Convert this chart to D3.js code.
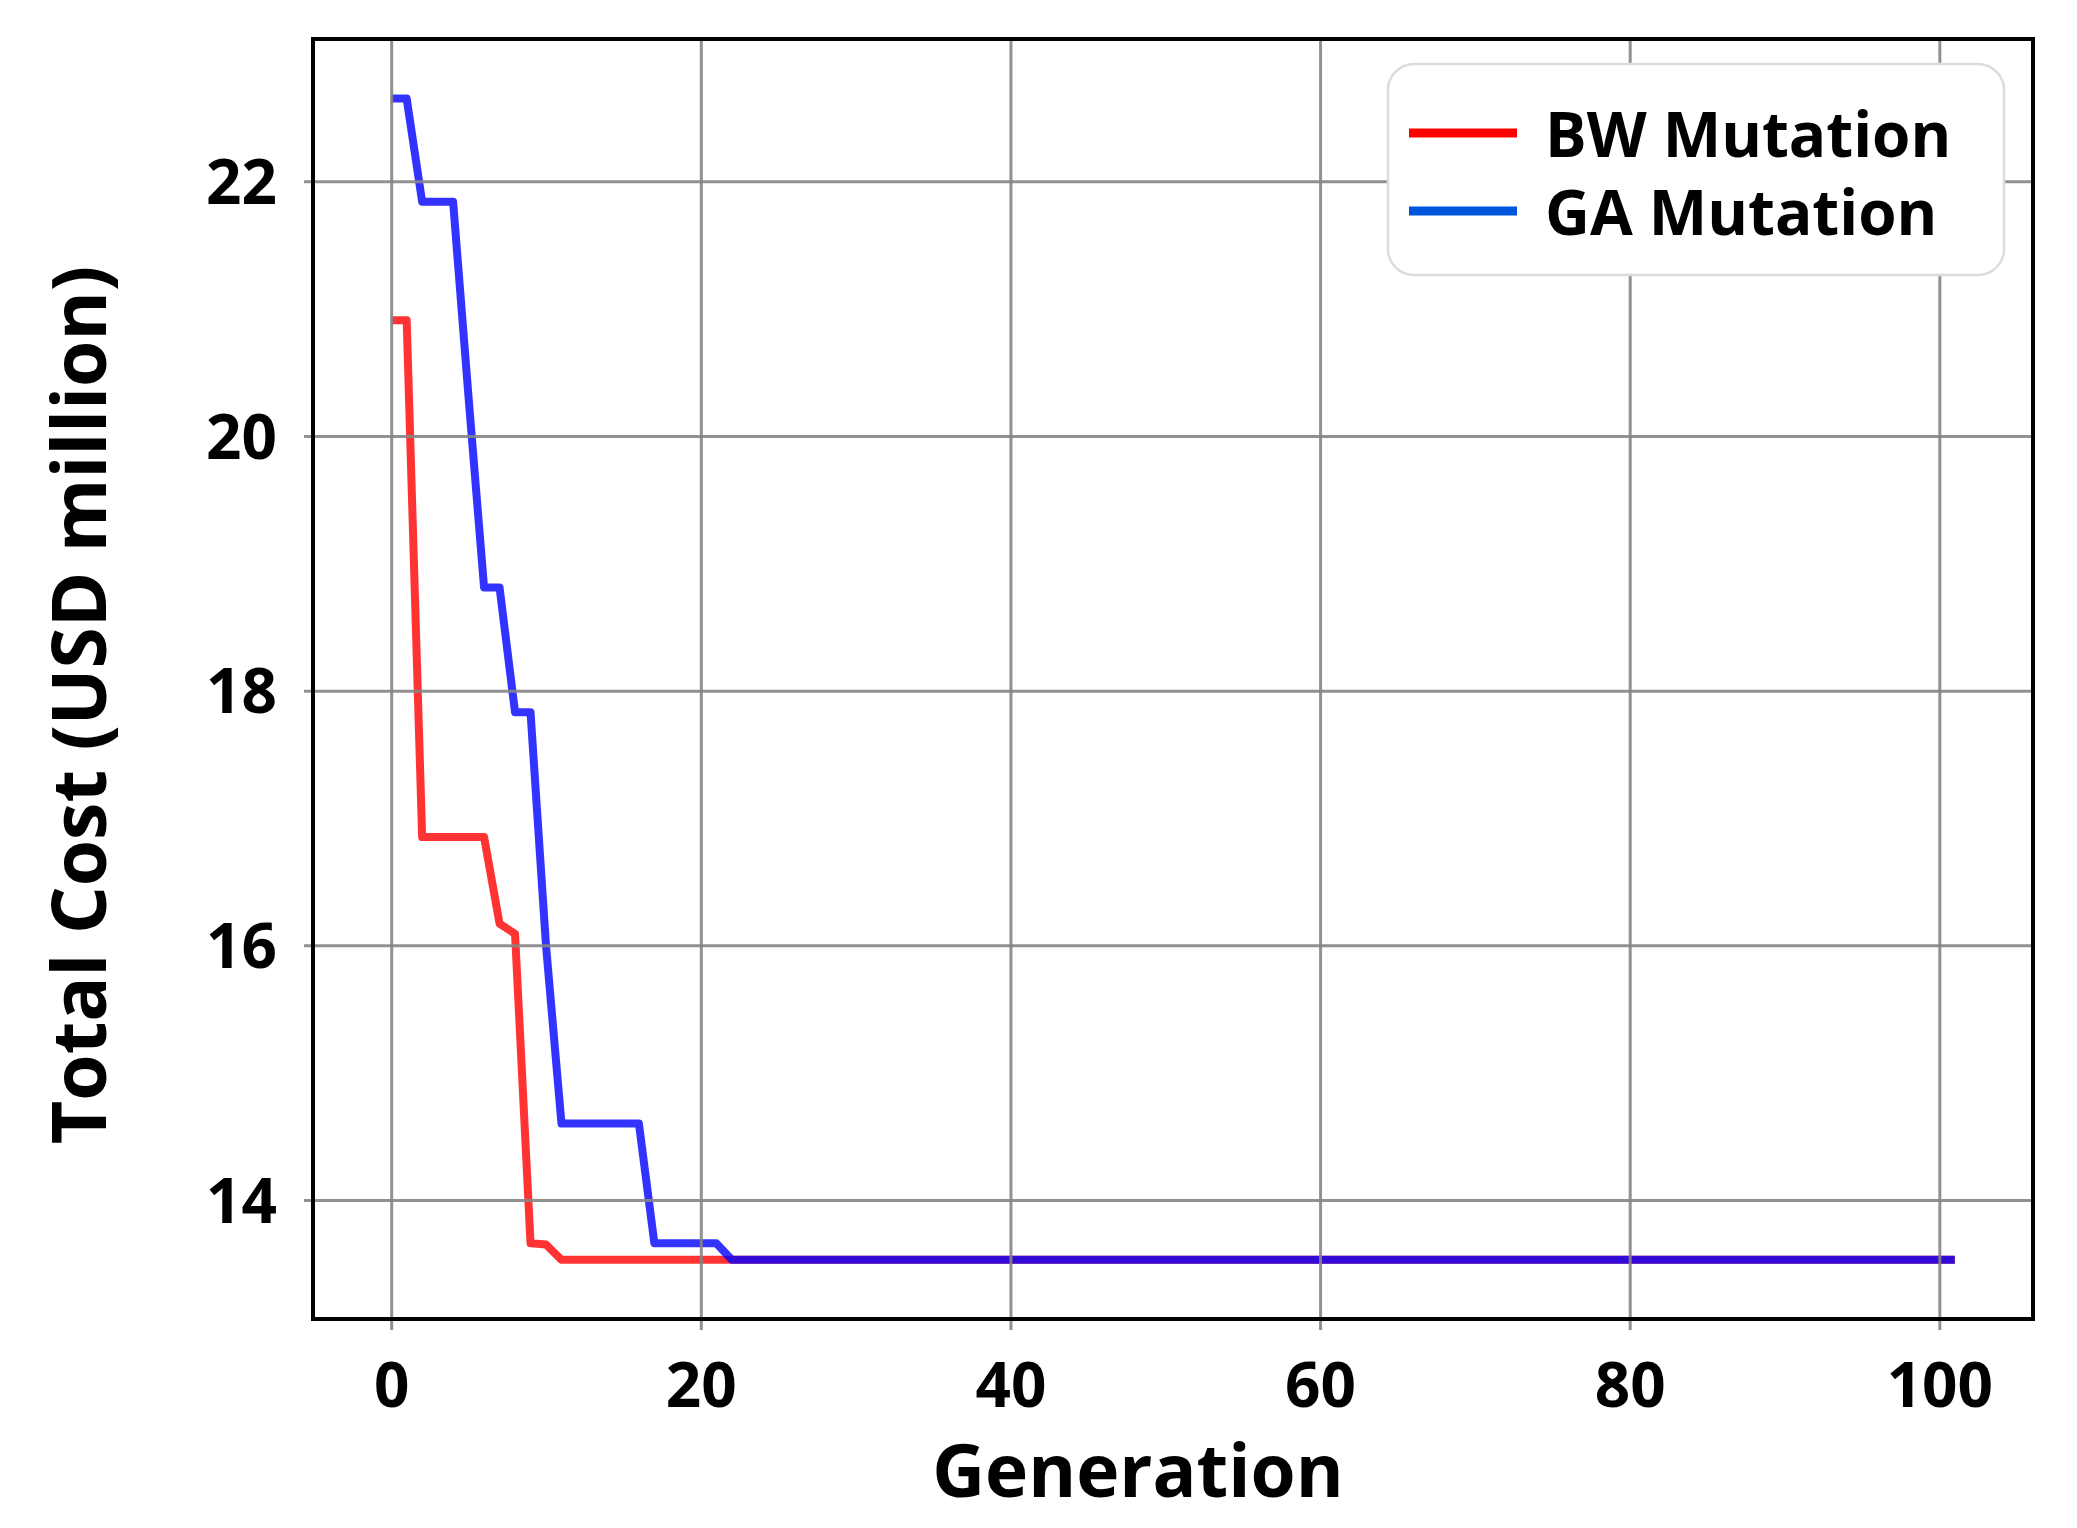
<!DOCTYPE html>
<html>
<head>
<meta charset="utf-8">
<script src="https://cdn.jsdelivr.net/npm/d3@7"></script>
<style>
  html, body { margin: 0; padding: 0; background: #fff; }
  svg { display: block; }
  text { font-family: "Open Sans", "Noto Sans", sans-serif; font-weight: 700; fill: #000; }
</style>
</head>
<body>
<script>
// ---- data ----
const generationTicks = [0, 20, 40, 60, 80, 100];
const costTicks = [14, 16, 18, 20, 22];

// BW Mutation: breakpoints of the best-cost curve
const bwGen  = [0, 1, 2, 6, 7, 8, 9, 10, 11, 101];
const bwCost = [20.91, 20.91, 16.85, 16.85, 16.17, 16.09, 13.66, 13.65, 13.53, 13.53];

// GA Mutation: breakpoints of the best-cost curve
const gaGen  = [0, 1, 2, 4, 5, 6, 7, 8, 9, 10, 11, 16, 17, 21, 22, 101];
const gaCost = [22.65, 22.65, 21.84, 21.84, 20.3, 18.81, 18.81, 17.83, 17.83, 16.0, 14.6, 14.6, 13.66, 13.66, 13.53, 13.53];

const seriesNames = ["BW Mutation", "GA Mutation"];
const xLabel = "Generation";
const yLabel = "Total Cost (USD million)";

// ---- layout ----
const W = 2077, H = 1528;
const plot = { left: 313, right: 2033, top: 39, bottom: 1319 };

const svg = d3.select("body").append("svg").attr("width", W).attr("height", H);
svg.append("rect").attr("width", W).attr("height", H).attr("fill", "#fff");

const x = d3.scaleLinear().domain([-5.05, 106.05]).range([plot.left, plot.right]);
const y = d3.scaleLinear().domain([13.065, 23.118]).range([plot.bottom, plot.top]);

const gridColor = "#858585";

// lines (drawn below the grid, as in the reference)
const line = d3.line().x(d => x(d[0])).y(d => y(d[1]));
const bwData = bwGen.map((g, i) => [g, bwCost[i]]);
const gaData = gaGen.map((g, i) => [g, gaCost[i]]);

svg.append("path").datum(bwData).attr("d", line)
  .attr("fill", "none").attr("stroke", "#ff0000").attr("stroke-opacity", 0.8)
  .attr("stroke-width", 8).attr("stroke-linejoin", "round");
svg.append("path").datum(gaData).attr("d", line)
  .attr("fill", "none").attr("stroke", "#0000ff").attr("stroke-opacity", 0.8)
  .attr("stroke-width", 8).attr("stroke-linejoin", "round");

// gridlines (extending slightly outside as tick marks)
const xGrid = svg.append("g")
  .attr("transform", `translate(0,${plot.bottom})`)
  .call(d3.axisBottom(x).tickValues(generationTicks)
    .tickSize(-(plot.bottom - plot.top)).tickSizeOuter(0).tickFormat(""));
xGrid.select(".domain").remove();
xGrid.selectAll("line").attr("stroke", gridColor).attr("stroke-width", 3)
  .attr("stroke-opacity", 0.9).attr("y1", 11);

const yGrid = svg.append("g")
  .attr("transform", `translate(${plot.left},0)`)
  .call(d3.axisLeft(y).tickValues(costTicks)
    .tickSize(-(plot.right - plot.left)).tickSizeOuter(0).tickFormat(""));
yGrid.select(".domain").remove();
yGrid.selectAll("line").attr("stroke", gridColor).attr("stroke-width", 3)
  .attr("stroke-opacity", 0.9).attr("x1", -9);

// tick labels
const xAxis = svg.append("g")
  .attr("transform", `translate(0,${plot.bottom})`)
  .call(d3.axisBottom(x).tickValues(generationTicks).tickSize(0).tickPadding(0).tickFormat(d3.format("d")));
xAxis.select(".domain").remove();
xAxis.selectAll("text").attr("font-size", 62).attr("dy", 0).attr("y", 88)
  .style("font-family", '"Open Sans", sans-serif').style("font-weight", 700).attr("fill", "#000");

const yAxis = svg.append("g")
  .attr("transform", `translate(${plot.left},0)`)
  .call(d3.axisLeft(y).tickValues(costTicks).tickSize(0).tickPadding(0).tickFormat(d3.format("d")));
yAxis.select(".domain").remove();
yAxis.selectAll("text").attr("font-size", 62).attr("x", -36).attr("dy", "0.36em")
  .style("font-family", '"Open Sans", sans-serif').style("font-weight", 700).attr("fill", "#000");

// frame
svg.append("rect")
  .attr("x", plot.left).attr("y", plot.top)
  .attr("width", plot.right - plot.left).attr("height", plot.bottom - plot.top)
  .attr("fill", "none").attr("stroke", "#000").attr("stroke-width", 4);

// legend
const legend = svg.append("g");
legend.append("rect")
  .attr("x", 1388).attr("y", 64).attr("width", 616).attr("height", 211)
  .attr("rx", 26).attr("ry", 26)
  .attr("fill", "#fff").attr("stroke", "#dcdcdc").attr("stroke-width", 2.5);
const legendColors = ["#ff0000", "#0055dd"];
seriesNames.forEach((name, i) => {
  const cy = 133 + i * 78;
  legend.append("line").attr("x1", 1409).attr("x2", 1517).attr("y1", cy).attr("y2", cy)
    .attr("stroke", legendColors[i]).attr("stroke-width", 9);
  legend.append("text").attr("x", 1545).attr("y", cy + 24)
    .attr("font-size", 62).text(name);
});

// axis titles
svg.append("text").attr("x", 1138).attr("y", 1497)
  .attr("text-anchor", "middle").attr("font-size", 73).text(xLabel);
svg.append("text")
  .attr("transform", "translate(106,705) rotate(-90)")
  .attr("text-anchor", "middle").attr("font-size", 75).text(yLabel);
</script>
</body>
</html>
